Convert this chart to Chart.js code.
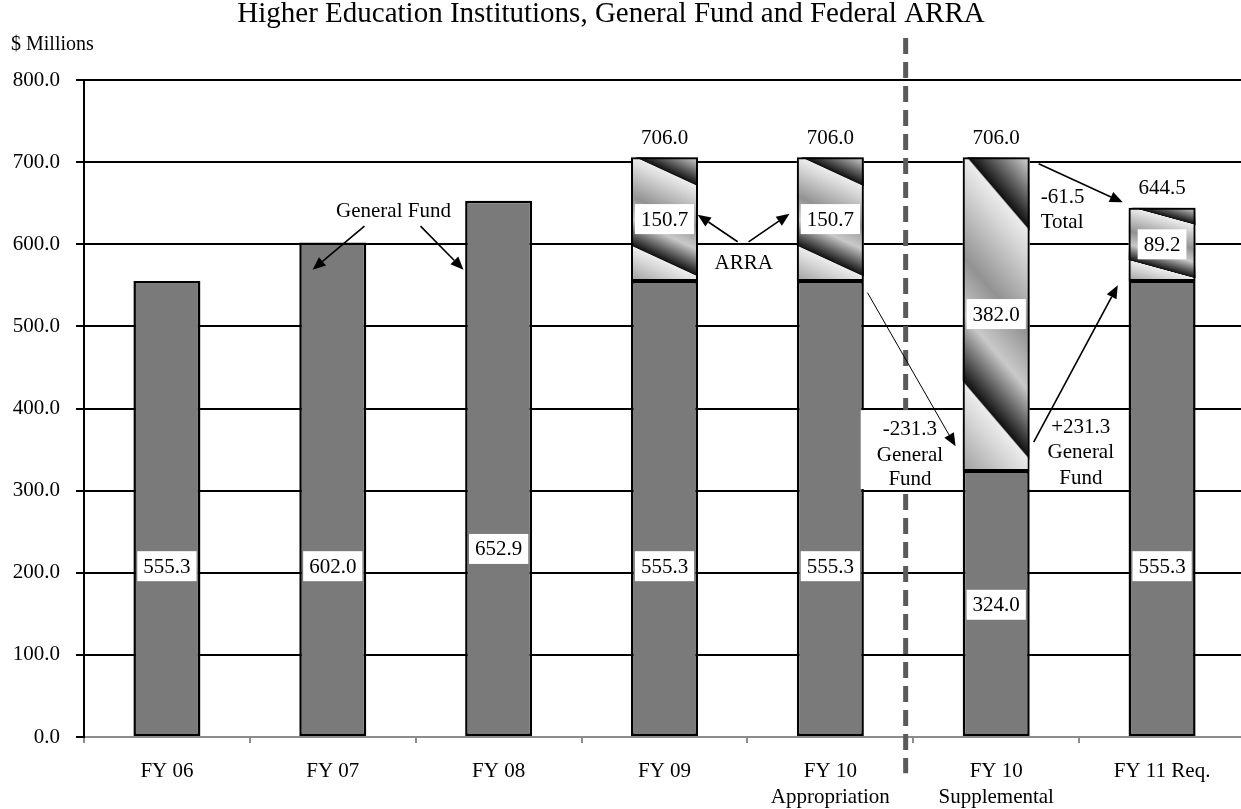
<!DOCTYPE html>
<html>
<head>
<meta charset="utf-8">
<script src="https://cdn.jsdelivr.net/npm/chart.js@4.4.0/dist/chart.umd.min.js"></script>
<style>
html, body { margin: 0; padding: 0; background: #fff; overflow: hidden; }
canvas { display: block; }
</style>
</head>
<body>
<canvas id="chart" width="1245" height="809"></canvas>
<script>
// Categories along the x axis
const categories = ['FY 06', 'FY 07', 'FY 08', 'FY 09', ['FY 10', 'Appropriation'], ['FY 10', 'Supplemental'], 'FY 11 Req.'];
// General Fund, $ millions
const generalFund = [555.3, 602.0, 652.9, 555.3, 555.3, 324.0, 555.3];
// Federal ARRA, $ millions
const arra = [null, null, null, 150.7, 150.7, 382.0, 89.2];
// y axis ticks
const yTicks = [0, 100, 200, 300, 400, 500, 600, 700, 800];

const FONT = '"Liberation Serif", "Times New Roman", serif';

// where the white General Fund value boxes sit ($ millions)
const gfLabelAt = [208, 208, 229, 208, 208, 161, 208];

// arrows: [fromIndex, fromValue, toIndex, toValue, lineWidth]
const arrows = [
    [1.191, 622, 0.878, 569, 1.6],
    [1.529, 622, 1.788, 569, 1.6],
    [3.441, 603, 3.200, 636, 1.6],
    [3.507, 603, 3.754, 637, 1.6],
    [5.256, 698, 5.763, 651, 1.6],
    [4.224, 541, 4.755, 354, 1],
    [5.226, 359, 5.733, 550, 1.6]
];

// free text notes: [index, value, text, align]
const notes = [
    [1.366, 640, 'General Fund', 'center'],
    [3.478, 576, 'ARRA', 'center'],
    [5.268, 657, '-61.5', 'left'],
    [5.268, 627, 'Total', 'left']
];

// boxed notes around the supplemental shift
const boxNotes = [
    { from: 4.183, to: 4.786, top: 398, bottom: 302, x: 4.48, lines: [['-231.3', 374], ['General', 343], ['Fund', 313]] },
    { from: 5.202, to: 5.793, top: 398, bottom: 302, x: 5.51, lines: [['+231.3', 377], ['General', 346], ['Fund', 315]] }
];

// dashed divider: index, top value, bottom value
const divider = [4.454, 851, -44];

// diagonal stripe stops for the ARRA fill (one period)
const stripeStops = [[0, '#ececec'], [0.12, '#d6d6d6'], [0.45, '#929292'], [0.7, '#c9c9c9'], [0.99, '#111111']];

function paintArra(ctx, el) {
    const p = el.getProps(['x', 'y', 'base', 'width'], true);
    const left = p.x - p.width / 2;
    const top = Math.min(p.y, p.base);
    const h = Math.abs(p.base - p.y);
    ctx.save();
    ctx.translate(left, top);
    ctx.scale(p.width, h);
    const nx = -0.25 / 1.0308, ny = 1 / 1.0308, P = 0.708;
    const g = ctx.createLinearGradient(-nx * P + 0.05, -ny * P, nx * 2 * P + 0.05, ny * 2 * P);
    for (let k = 0; k < 3; k++) {
        stripeStops.forEach(([f, c]) => g.addColorStop((k + f) / 3, c));
    }
    ctx.fillStyle = g;
    ctx.fillRect(0, 0, 1, 1);
    ctx.restore();
}

function whiteBox(ctx, text, x, y) {
    const w = ctx.measureText(text).width + 12;
    ctx.fillStyle = '#fff';
    ctx.fillRect(x - w / 2, y - 15, w, 30);
    ctx.fillStyle = '#000';
    ctx.fillText(text, x, y + 1);
}

function arrow(ctx, x0, y0, x1, y1, lw) {
    const a = Math.atan2(y1 - y0, x1 - x0);
    const len = 13, half = 5.5;
    const bx = x1 - len * Math.cos(a), by = y1 - len * Math.sin(a);
    ctx.strokeStyle = '#000';
    ctx.lineWidth = lw;
    ctx.beginPath();
    ctx.moveTo(x0, y0);
    ctx.lineTo(bx, by);
    ctx.stroke();
    ctx.fillStyle = '#000';
    ctx.beginPath();
    ctx.moveTo(x1, y1);
    ctx.lineTo(bx + half * Math.sin(a), by - half * Math.cos(a));
    ctx.lineTo(bx - half * Math.sin(a), by + half * Math.cos(a));
    ctx.closePath();
    ctx.fill();
}

const decorations = {
    id: 'decorations',
    beforeDatasetDraw(chart, args) {
        if (args.index !== 1) return;
        const ctx = chart.ctx;
        chart.getDatasetMeta(1).data.forEach((el, i) => {
            if (arra[i]) paintArra(ctx, el);
        });
    },
    afterDatasetsDraw(chart) {
        const ctx = chart.ctx;
        const xs = chart.scales.x, ys = chart.scales.y;
        const px = v => xs.getPixelForValue(v);
        const py = v => ys.getPixelForValue(v);

        // dashed divider
        ctx.save();
        ctx.strokeStyle = '#5a5a5a';
        ctx.lineWidth = 5;
        ctx.setLineDash([16, 8]);
        ctx.beginPath();
        ctx.moveTo(px(divider[0]), py(divider[1]));
        ctx.lineTo(px(divider[0]), py(divider[2]));
        ctx.stroke();
        ctx.restore();

        ctx.save();
        ctx.font = '21px ' + FONT;
        ctx.textAlign = 'center';
        ctx.textBaseline = 'middle';

        // General Fund value boxes
        generalFund.forEach((v, i) => whiteBox(ctx, v.toFixed(1), px(i), py(gfLabelAt[i])));

        // ARRA value boxes and totals
        arra.forEach((v, i) => {
            if (!v) return;
            const g = generalFund[i];
            whiteBox(ctx, v.toFixed(1), px(i), py(g + v / 2));
            ctx.fillStyle = '#000';
            ctx.fillText((g + v).toFixed(1), px(i), py(g + v) - 19);
        });

        // boxed notes
        boxNotes.forEach(b => {
            ctx.fillStyle = '#fff';
            ctx.fillRect(px(b.from), py(b.top), px(b.to) - px(b.from), py(b.bottom) - py(b.top));
            ctx.fillStyle = '#000';
            b.lines.forEach(([t, v]) => ctx.fillText(t, px(b.x), py(v)));
        });

        // free notes
        notes.forEach(([i, v, t, align]) => {
            ctx.textAlign = align;
            ctx.fillStyle = '#000';
            ctx.fillText(t, px(i), py(v));
        });

        arrows.forEach(([i0, v0, i1, v1, lw]) => arrow(ctx, px(i0), py(v0), px(i1), py(v1), lw));

        // title and unit
        ctx.textAlign = 'center';
        ctx.font = '29px ' + FONT;
        ctx.fillText('Higher Education Institutions, General Fund and Federal ARRA', 611, 14);
        ctx.textAlign = 'left';
        ctx.font = '20px ' + FONT;
        ctx.fillText('$ Millions', 11, 45);
        ctx.restore();
    }
};

new Chart(document.getElementById('chart'), {
    type: 'bar',
    data: {
        labels: categories,
        datasets: [
            {
                label: 'General Fund',
                data: generalFund,
                backgroundColor: '#7a7a7a',
                borderColor: '#000',
                borderWidth: 2.5,
                borderSkipped: false
            },
            {
                label: 'ARRA',
                data: arra,
                backgroundColor: 'rgba(0,0,0,0)',
                borderColor: '#000',
                borderWidth: 2,
                borderSkipped: false
            }
        ]
    },
    options: {
        responsive: false,
        animation: false,
        barPercentage: 0.404,
        categoryPercentage: 1,
        layout: { padding: { top: 80, left: 0, right: 0, bottom: 0 } },
        plugins: { legend: { display: false }, tooltip: { enabled: false } },
        scales: {
            x: {
                stacked: true,
                afterFit: s => { s.height = 72; },
                border: { color: '#8c8c8c', width: 2 },
                grid: { drawOnChartArea: false, color: '#8c8c8c', lineWidth: 2, tickLength: 6 },
                ticks: { color: '#000', font: { family: FONT, size: 21, lineHeight: 1.25 }, padding: 15, maxRotation: 0, autoSkip: false }
            },
            y: {
                stacked: true,
                min: 0,
                max: 800,
                afterFit: s => { s.width = 84; },
                afterBuildTicks: s => { s.ticks = yTicks.map(v => ({ value: v })); },
                border: { color: '#000', width: 2 },
                grid: {
                    color: c => c.tick && c.tick.value === 0 ? 'rgba(0,0,0,0)' : '#000',
                    tickColor: '#000',
                    lineWidth: 2,
                    tickLength: 8
                },
                ticks: {
                    color: '#000',
                    font: { family: FONT, size: 21 },
                    padding: 16,
                    callback: v => v.toFixed(1)
                }
            }
        }
    },
    plugins: [decorations]
});
</script>
</body>
</html>
